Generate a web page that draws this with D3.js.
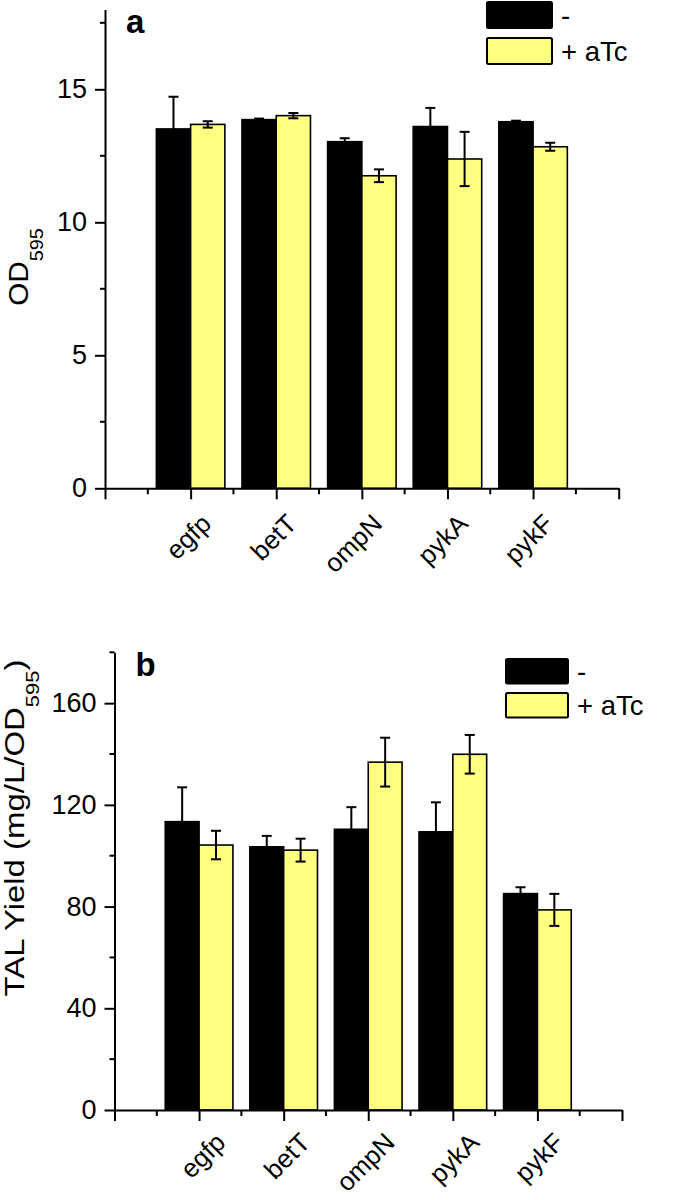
<!DOCTYPE html>
<html>
<head>
<meta charset="utf-8">
<script src="https://cdn.jsdelivr.net/npm/d3@7"></script>
<style>
  body { margin: 0; background: #fff; }
  svg { display: block; }
  text { font-family: "Liberation Sans", Arial, sans-serif; fill: #000; }
</style>
</head>
<body>
<svg id="chart" width="685" height="1200"></svg>
<script>
// ---------- data ----------
const categories = ["egfp", "betT", "ompN", "pykA", "pykF"];
const seriesNames = ["-", "+ aTc"];
const seriesColors = ["#000000", "#ffff80"];

// panel a: OD595
const odMinus    = [13.51, 13.86, 13.03, 13.60, 13.78];
const odMinusErr = [1.21, 0.04, 0.13, 0.70, 0.04];
const odATc      = [13.68, 14.01, 11.75, 12.38, 12.84];
const odATcErr   = [0.12, 0.10, 0.24, 1.02, 0.15];
const odTicks    = [0, 5, 10, 15];
const odMinor    = [2.5, 7.5, 12.5, 17.5];

// panel b: TAL yield
const talMinus    = [113.4, 103.5, 110.4, 109.4, 85.1];
const talMinusErr = [13.5, 4.3, 8.7, 11.6, 2.5];
const talATc      = [104.2, 102.2, 136.8, 139.9, 78.7];
const talATcErr   = [5.6, 4.5, 9.6, 7.6, 6.3];
const talTicks    = [0, 40, 80, 120, 160];
const talMinor    = [20, 60, 100, 140, 180];

const svg = d3.select("#chart");

function drawPanel(cfg) {
  const g = svg.append("g");
  const x = d3.scaleLinear().domain([0, categories.length + 1]).range([cfg.x0, cfg.x1]);
  const y = d3.scaleLinear().domain(cfg.yDomain).range([cfg.y0, cfg.y1]);
  const bw = 0.4;

  const series = [
    { vals: cfg.minus, errs: cfg.minusErr, off: -bw, color: seriesColors[0] },
    { vals: cfg.atc, errs: cfg.atcErr, off: 0, color: seriesColors[1] }
  ];

  series.forEach(s => {
    g.selectAll(null).data(categories).enter().append("rect")
      .attr("x", (d, i) => x(i + 1 + s.off))
      .attr("width", x(bw) - x(0))
      .attr("y", (d, i) => y(s.vals[i]))
      .attr("height", (d, i) => y(0) - y(s.vals[i]))
      .attr("fill", s.color)
      .attr("stroke", "#000")
      .attr("stroke-width", 1.6);
  });

  // error bars
  series.forEach(s => {
    const eg = g.selectAll(null).data(categories).enter().append("g")
      .attr("stroke", "#000").attr("stroke-width", 2);
    const cx = (d, i) => x(i + 1 + s.off + bw / 2);
    eg.append("line").attr("x1", cx).attr("x2", cx)
      .attr("y1", (d, i) => y(s.vals[i] - s.errs[i]))
      .attr("y2", (d, i) => y(s.vals[i] + s.errs[i]));
    [1, -1].forEach(sign => {
      eg.append("line")
        .attr("x1", (d, i) => cx(d, i) - 5).attr("x2", (d, i) => cx(d, i) + 5)
        .attr("y1", (d, i) => y(s.vals[i] + sign * s.errs[i]))
        .attr("y2", (d, i) => y(s.vals[i] + sign * s.errs[i]));
    });
  });

  // y axis
  const yAxis = g.append("g").attr("transform", `translate(${cfg.x0},0)`);
  yAxis.call(d3.axisLeft(y).tickValues(cfg.ticks).tickSize(10).tickSizeOuter(0).tickPadding(8));
  yAxis.selectAll(".tick text").attr("font-size", 27).attr("font-family", "Liberation Sans, Arial, sans-serif");
  yAxis.selectAll("line").attr("stroke-width", 2);
  yAxis.select(".domain").attr("stroke-width", 2);
  yAxis.selectAll(".minor").data(cfg.minor).enter().append("line")
    .attr("x1", -5).attr("x2", 0).attr("y1", d => y(d)).attr("y2", d => y(d))
    .attr("stroke", "#000").attr("stroke-width", 2);

  // x axis
  const xAxis = g.append("g").attr("transform", `translate(0,${cfg.y0})`);
  const majors = d3.range(0, categories.length + 2);
  xAxis.call(d3.axisBottom(x).tickValues(majors).tickSize(11).tickSizeOuter(0).tickFormat(""));
  xAxis.selectAll("line").attr("stroke-width", 2);
  xAxis.select(".domain").attr("stroke-width", 2);
  xAxis.selectAll(".minor").data(d3.range(0.5, categories.length + 1, 1)).enter().append("line")
    .attr("x1", d => x(d)).attr("x2", d => x(d)).attr("y1", 0).attr("y2", 6)
    .attr("stroke", "#000").attr("stroke-width", 2);
  xAxis.selectAll(".catlabel").data(categories).enter().append("text")
    .attr("transform", (d, i) => `translate(${x(i + 1) + cfg.labDx},${cfg.labDy}) rotate(-45)`)
    .attr("text-anchor", "end")
    .attr("font-size", 26)
    .text(d => d);

  // panel letter
  g.append("text").attr("x", cfg.x0 + 21).attr("y", cfg.letterY)
    .attr("font-size", 33).attr("font-weight", "bold").text(cfg.letter);

  // legend
  const lg = g.append("g");
  seriesNames.forEach((name, i) => {
    const ly = cfg.legY + i * cfg.legStep;
    lg.append("rect").attr("x", cfg.legX).attr("y", ly)
      .attr("width", cfg.legW).attr("height", cfg.legH).attr("rx", 1.5)
      .attr("fill", seriesColors[i]).attr("stroke", "#000").attr("stroke-width", 2);
    lg.append("text").attr("x", cfg.legX + cfg.legW + 9).attr("y", ly + cfg.legH / 2)
      .attr("dy", "0.36em").attr("font-size", 27.5).text(name);
  });

  // y title
  const t = g.append("text")
    .attr("transform", `translate(${cfg.titleX},${cfg.titleY}) rotate(-90) scale(${cfg.titleScale},1)`)
    .attr("text-anchor", "middle").attr("font-size", 27);
  t.append("tspan").text(cfg.titleMain);
  t.append("tspan").attr("font-size", 18).attr("dy", 15).text("595");
  if (cfg.titleTail) t.append("tspan").attr("dy", -15).text(cfg.titleTail);
}

drawPanel({
  x0: 105, x1: 618.7, y0: 488.3, y1: 9.5, yDomain: [0, 18],
  ticks: odTicks, minor: odMinor,
  minus: odMinus, minusErr: odMinusErr, atc: odATc, atcErr: odATcErr,
  labDx: 22, labDy: 37,
  letter: "a", letterY: 33,
  legX: 487, legY: 2, legStep: 36, legW: 65, legH: 26,
  titleX: 28, titleY: 267, titleScale: 1.1, titleMain: "OD", titleTail: ""
});

drawPanel({
  x0: 114.5, x1: 622, y0: 1110, y1: 652.3, yDomain: [0, 180],
  ticks: talTicks, minor: talMinor,
  minus: talMinus, minusErr: talMinusErr, atc: talATc, atcErr: talATcErr,
  labDx: 28, labDy: 34,
  letter: "b", letterY: 676,
  legX: 506, legY: 659, legStep: 34, legW: 62, legH: 24.5,
  titleX: 24, titleY: 828, titleScale: 1.22, titleMain: "TAL Yield (mg/L/OD", titleTail: ")"
});
</script>
</body>
</html>
